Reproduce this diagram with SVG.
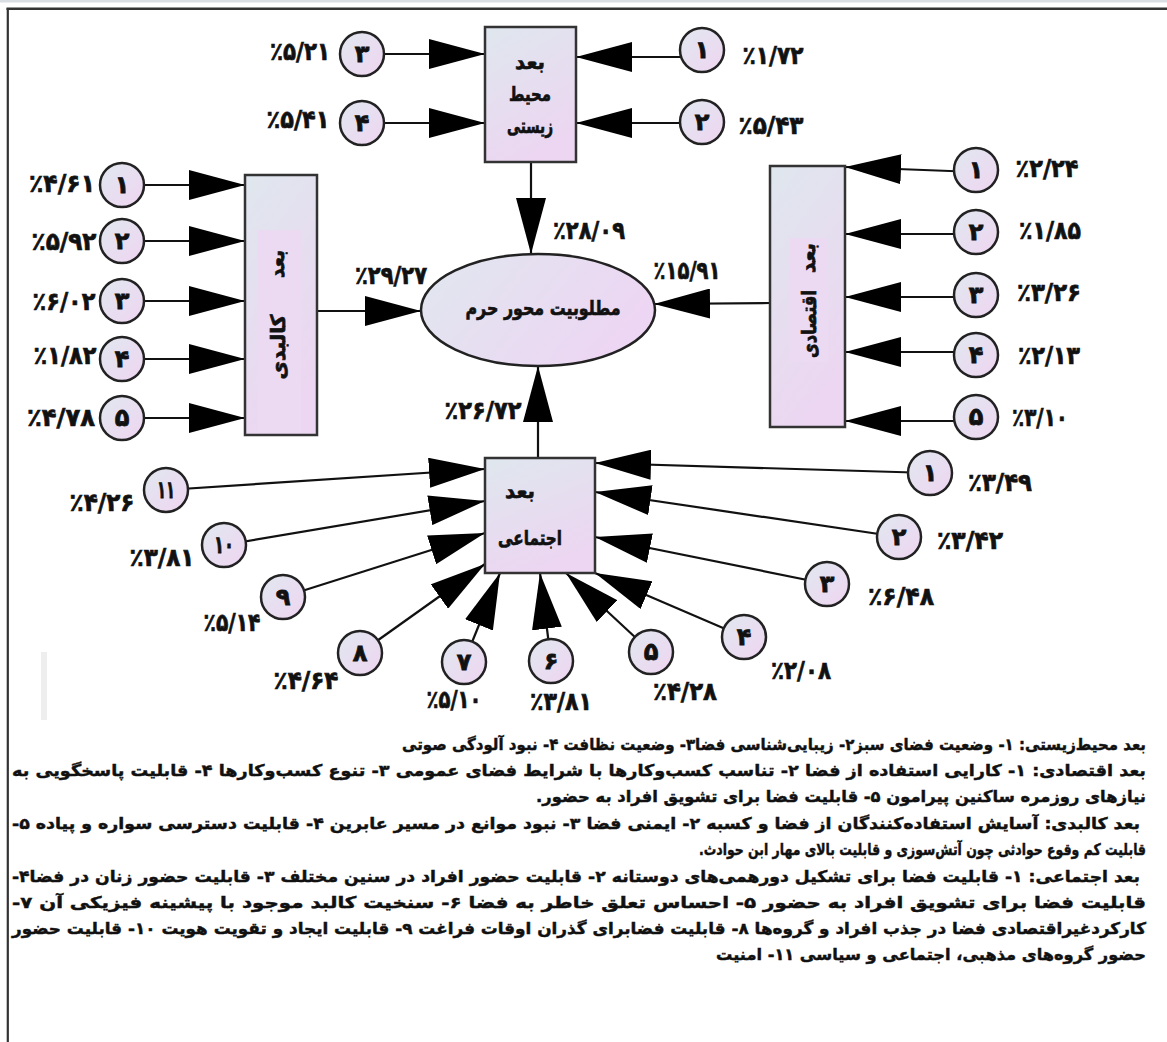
<svg xmlns="http://www.w3.org/2000/svg" width="1167" height="1042" viewBox="0 0 1167 1042">
<defs>
<linearGradient id="gBox" x1="0" y1="0" x2="0.4" y2="1"><stop offset="0" stop-color="#dfe7ee"/><stop offset="1" stop-color="#ecd6f1"/></linearGradient>
<linearGradient id="gCir" x1="0" y1="0" x2="1" y2="1"><stop offset="0" stop-color="#e1e8f0"/><stop offset="1" stop-color="#efd5f1"/></linearGradient>
<linearGradient id="gEll" x1="0" y1="0" x2="1" y2="0.4"><stop offset="0" stop-color="#e0e7ef"/><stop offset="1" stop-color="#edd6f3"/></linearGradient>
<marker id="ah" markerUnits="userSpaceOnUse" markerWidth="56" markerHeight="30" refX="56" refY="15" orient="auto"><path d="M0,0 L56,15 L0,30 Z" fill="#000"/></marker>
<style>
.box{fill:url(#gBox);stroke:#333;stroke-width:2.5}
.inner{fill:#ebdaf2;stroke:none}
.cir{fill:url(#gCir);stroke:#222;stroke-width:2.5}
.ell{fill:url(#gEll);stroke:#222;stroke-width:2.5}
.con line{stroke:#111;stroke-width:2.2;marker-end:url(#ah)}
text{font-family:"DejaVu Sans",sans-serif;font-weight:bold;fill:#111;stroke:#111}
.num{font-size:24px;text-anchor:middle;dominant-baseline:central;stroke-width:0.8}
.lbl{font-size:25px;text-anchor:middle;dominant-baseline:central;stroke-width:0.7}
.nt{font-size:20px;text-anchor:middle;dominant-baseline:central;stroke-width:0.7}
.par{font-size:16px;text-anchor:start;stroke-width:0.45}
</style>
</defs>
<rect width="1167" height="1042" fill="#fff"/>
<g id="frame">
<line x1="0" y1="1" x2="1167" y2="1" stroke="#d9dee4" stroke-width="3"/>
<line x1="6.5" y1="8.7" x2="1167" y2="8.7" stroke="#333" stroke-width="2.5"/>
<line x1="7.8" y1="8" x2="7.8" y2="1042" stroke="#333" stroke-width="2.2"/>
<rect x="41" y="652" width="6" height="68" fill="#eeeeee"/>
</g>
<g id="connectors" class="con">
<line x1="362" y1="54" x2="485" y2="54"/>
<line x1="362" y1="123" x2="485" y2="123"/>
<line x1="702" y1="57" x2="576" y2="57"/>
<line x1="702" y1="123" x2="576" y2="123"/>
<line x1="531" y1="162" x2="531" y2="254"/>
<line x1="122" y1="185" x2="245" y2="185"/>
<line x1="122" y1="241" x2="245" y2="241"/>
<line x1="122" y1="301" x2="245" y2="301"/>
<line x1="122" y1="359" x2="245" y2="359"/>
<line x1="122" y1="418" x2="245" y2="418"/>
<line x1="317" y1="311" x2="421" y2="311"/>
<line x1="976" y1="172" x2="845" y2="167"/>
<line x1="976" y1="234" x2="845" y2="234"/>
<line x1="976" y1="297" x2="845" y2="297"/>
<line x1="976" y1="352" x2="845" y2="352"/>
<line x1="976" y1="421" x2="845" y2="421"/>
<line x1="770" y1="303" x2="654" y2="304"/>
<line x1="538" y1="458" x2="538" y2="366"/>
<line x1="166" y1="490" x2="485" y2="469"/>
<line x1="224" y1="545" x2="485" y2="501"/>
<line x1="283" y1="597" x2="485" y2="533"/>
<line x1="360" y1="653" x2="485" y2="564"/>
<line x1="464" y1="662" x2="500" y2="573"/>
<line x1="551" y1="661" x2="540" y2="573"/>
<line x1="651" y1="652" x2="566" y2="573"/>
<line x1="744" y1="637" x2="595" y2="573"/>
<line x1="827" y1="584" x2="595" y2="537"/>
<line x1="899" y1="537" x2="595" y2="492"/>
<line x1="930" y1="473" x2="595" y2="463"/>
</g>
<g id="n-goal"><ellipse class="ell" cx="538" cy="310" rx="117" ry="56"/><text class="nt" x="543" y="308" textLength="155" lengthAdjust="spacingAndGlyphs">مطلوبیت محور حرم</text></g>
<g id="n-env"><rect class="box" x="485" y="27" width="91" height="135"/><text class="nt" x="530" y="62" textLength="30" lengthAdjust="spacingAndGlyphs">بعد</text><text class="nt" x="530" y="94" textLength="42" lengthAdjust="spacingAndGlyphs">محیط</text><text class="nt" x="530" y="126" textLength="46" lengthAdjust="spacingAndGlyphs">زیستی</text></g>
<g id="n-phys"><rect class="box" x="245" y="175" width="72" height="260"/><rect class="inner" x="258" y="230" width="43" height="203"/><text class="nt" transform="translate(277,264) rotate(-90)" textLength="28" lengthAdjust="spacingAndGlyphs">بعد</text><text class="nt" transform="translate(278,347) rotate(-90)" textLength="65" lengthAdjust="spacingAndGlyphs">کالبدی</text></g>
<g id="n-econ"><rect class="box" x="770" y="166" width="75" height="261"/><rect class="inner" x="790" y="238" width="38" height="124"/><text class="nt" transform="translate(808,258) rotate(-90)" textLength="30" lengthAdjust="spacingAndGlyphs">بعد</text><text class="nt" transform="translate(809,324) rotate(-90)" textLength="68" lengthAdjust="spacingAndGlyphs">اقتصادی</text></g>
<g id="n-soc"><rect class="box" x="485" y="458" width="110" height="115"/><text class="nt" x="520" y="491" textLength="30" lengthAdjust="spacingAndGlyphs">بعد</text><text class="nt" x="530" y="538" textLength="64" lengthAdjust="spacingAndGlyphs">اجتماعی</text></g>
<g id="env-items">
<g id="env-3"><circle class="cir" cx="362" cy="54" r="22"/><text class="num" x="362" y="54">۳</text><text class="lbl" x="300" y="51" textLength="60" lengthAdjust="spacingAndGlyphs">٪۵/۲۱</text></g>
<g id="env-4"><circle class="cir" cx="362" cy="123" r="22"/><text class="num" x="362" y="123">۴</text><text class="lbl" x="298" y="119" textLength="63" lengthAdjust="spacingAndGlyphs">٪۵/۴۱</text></g>
<g id="env-1"><circle class="cir" cx="702" cy="50" r="22"/><text class="num" x="702" y="50">۱</text><text class="lbl" x="773" y="55" textLength="61" lengthAdjust="spacingAndGlyphs">٪۱/۷۲</text></g>
<g id="env-2"><circle class="cir" cx="702" cy="122" r="22"/><text class="num" x="702" y="122">۲</text><text class="lbl" x="771" y="125" textLength="65" lengthAdjust="spacingAndGlyphs">٪۵/۴۳</text></g>
</g>
<g id="phys-items">
<g id="phys-1"><circle class="cir" cx="122" cy="185" r="22"/><text class="num" x="122" y="185">۱</text><text class="lbl" x="62" y="183" textLength="66" lengthAdjust="spacingAndGlyphs">٪۴/۶۱</text></g>
<g id="phys-2"><circle class="cir" cx="122" cy="241" r="22"/><text class="num" x="122" y="241">۲</text><text class="lbl" x="64" y="241" textLength="65" lengthAdjust="spacingAndGlyphs">٪۵/۹۲</text></g>
<g id="phys-3"><circle class="cir" cx="122" cy="301" r="22"/><text class="num" x="122" y="301">۳</text><text class="lbl" x="64" y="301" textLength="63" lengthAdjust="spacingAndGlyphs">٪۶/۰۲</text></g>
<g id="phys-4"><circle class="cir" cx="122" cy="359" r="22"/><text class="num" x="122" y="359">۴</text><text class="lbl" x="65" y="355" textLength="63" lengthAdjust="spacingAndGlyphs">٪۱/۸۲</text></g>
<g id="phys-5"><circle class="cir" cx="122" cy="418" r="22"/><text class="num" x="122" y="418">۵</text><text class="lbl" x="61" y="417" textLength="68" lengthAdjust="spacingAndGlyphs">٪۴/۷۸</text></g>
</g>
<g id="econ-items">
<g id="econ-1"><circle class="cir" cx="976" cy="170" r="22"/><text class="num" x="976" y="170">۱</text><text class="lbl" x="1047" y="168" textLength="63" lengthAdjust="spacingAndGlyphs">٪۲/۲۴</text></g>
<g id="econ-2"><circle class="cir" cx="976" cy="232" r="22"/><text class="num" x="976" y="232">۲</text><text class="lbl" x="1050" y="230" textLength="62" lengthAdjust="spacingAndGlyphs">٪۱/۸۵</text></g>
<g id="econ-3"><circle class="cir" cx="976" cy="295" r="22"/><text class="num" x="976" y="295">۳</text><text class="lbl" x="1049" y="292" textLength="64" lengthAdjust="spacingAndGlyphs">٪۳/۲۶</text></g>
<g id="econ-4"><circle class="cir" cx="976" cy="355" r="22"/><text class="num" x="976" y="355">۴</text><text class="lbl" x="1049" y="355" textLength="62" lengthAdjust="spacingAndGlyphs">٪۲/۱۳</text></g>
<g id="econ-5"><circle class="cir" cx="976" cy="417" r="22"/><text class="num" x="976" y="417">۵</text><text class="lbl" x="1040" y="417" textLength="56" lengthAdjust="spacingAndGlyphs">٪۳/۱۰</text></g>
</g>
<g id="soc-items">
<g id="soc-11"><circle class="cir" cx="166" cy="490" r="22"/><text class="num" x="166" y="490" textLength="18" lengthAdjust="spacingAndGlyphs">۱۱</text><text class="lbl" x="102" y="502" textLength="65" lengthAdjust="spacingAndGlyphs">٪۴/۲۶</text></g>
<g id="soc-10"><circle class="cir" cx="224" cy="545" r="22"/><text class="num" x="224" y="545" textLength="20" lengthAdjust="spacingAndGlyphs">۱۰</text><text class="lbl" x="162" y="557" textLength="65" lengthAdjust="spacingAndGlyphs">٪۳/۸۱</text></g>
<g id="soc-9"><circle class="cir" cx="283" cy="597" r="22"/><text class="num" x="283" y="597">۹</text><text class="lbl" x="232" y="622" textLength="57" lengthAdjust="spacingAndGlyphs">٪۵/۱۴</text></g>
<g id="soc-8"><circle class="cir" cx="360" cy="653" r="22"/><text class="num" x="360" y="653">۸</text><text class="lbl" x="306" y="680" textLength="65" lengthAdjust="spacingAndGlyphs">٪۴/۶۴</text></g>
<g id="soc-7"><circle class="cir" cx="464" cy="662" r="22"/><text class="num" x="464" y="662">۷</text><text class="lbl" x="454" y="699" textLength="55" lengthAdjust="spacingAndGlyphs">٪۵/۱۰</text></g>
<g id="soc-6"><circle class="cir" cx="551" cy="661" r="22"/><text class="num" x="551" y="661">۶</text><text class="lbl" x="561" y="701" textLength="62" lengthAdjust="spacingAndGlyphs">٪۳/۸۱</text></g>
<g id="soc-5"><circle class="cir" cx="651" cy="652" r="22"/><text class="num" x="651" y="652">۵</text><text class="lbl" x="685" y="691" textLength="64" lengthAdjust="spacingAndGlyphs">٪۴/۲۸</text></g>
<g id="soc-4"><circle class="cir" cx="744" cy="637" r="22"/><text class="num" x="744" y="637">۴</text><text class="lbl" x="801" y="670" textLength="60" lengthAdjust="spacingAndGlyphs">٪۲/۰۸</text></g>
<g id="soc-3"><circle class="cir" cx="827" cy="584" r="22"/><text class="num" x="827" y="584">۳</text><text class="lbl" x="901" y="596" textLength="66" lengthAdjust="spacingAndGlyphs">٪۶/۴۸</text></g>
<g id="soc-2"><circle class="cir" cx="899" cy="537" r="22"/><text class="num" x="899" y="537">۲</text><text class="lbl" x="970" y="540" textLength="66" lengthAdjust="spacingAndGlyphs">٪۳/۴۲</text></g>
<g id="soc-1"><circle class="cir" cx="930" cy="473" r="22"/><text class="num" x="930" y="473">۱</text><text class="lbl" x="1000" y="482" textLength="64" lengthAdjust="spacingAndGlyphs">٪۳/۴۹</text></g>
</g>
<g id="edge-labels">
<text class="lbl" x="589" y="230" textLength="72" lengthAdjust="spacingAndGlyphs">٪۲۸/۰۹</text>
<text class="lbl" x="391" y="275" textLength="72" lengthAdjust="spacingAndGlyphs">٪۲۹/۲۷</text>
<text class="lbl" x="687" y="270" textLength="67" lengthAdjust="spacingAndGlyphs">٪۱۵/۹۱</text>
<text class="lbl" x="483" y="410" textLength="77" lengthAdjust="spacingAndGlyphs">٪۲۶/۷۲</text>
</g>
<g id="notes">
<text class="par" direction="rtl" x="1146" y="750" textLength="744" lengthAdjust="spacingAndGlyphs">بعد محیط‌زیستی: ۱- وضعیت فضای سبز۲- زیبایی‌شناسی فضا۳- وضعیت نظافت ۴- نبود آلودگی صوتی</text>
<text class="par" direction="rtl" x="1146" y="776" textLength="1134" lengthAdjust="spacingAndGlyphs">بعد اقتصادی: ۱-  کارایی استفاده از فضا ۲- تناسب کسب‌وکارها با شرایط فضای عمومی ۳- تنوع کسب‌وکارها ۴- قابلیت پاسخگویی به</text>
<text class="par" direction="rtl" x="1146" y="802" textLength="610" lengthAdjust="spacingAndGlyphs">نیازهای روزمره ساکنین پیرامون ۵- قابلیت فضا برای تشویق افراد به حضور.</text>
<text class="par" direction="rtl" x="1140" y="829" textLength="1128" lengthAdjust="spacingAndGlyphs">بعد کالبدی: آسایش استفاده‌کنندگان از فضا و کسبه ۲- ایمنی فضا ۳- نبود موانع در مسیر عابرین ۴- قابلیت دسترسی سواره و پیاده ۵-</text>
<text class="par" direction="rtl" x="1146" y="855" textLength="447" lengthAdjust="spacingAndGlyphs">قابلیت کم وقوع حوادثی چون آتش‌سوزی و قابلیت بالای مهار ابن حوادث.</text>
<text class="par" direction="rtl" x="1140" y="882" textLength="1128" lengthAdjust="spacingAndGlyphs">بعد اجتماعی: ۱- قابلیت فضا برای تشکیل دورهمی‌های دوستانه ۲- قابلیت حضور افراد در سنین مختلف ۳- قابلیت حضور زنان در فضا۴-</text>
<text class="par" direction="rtl" x="1146" y="908" textLength="1134" lengthAdjust="spacingAndGlyphs">قابلیت فضا برای تشویق افراد به حضور ۵- احساس تعلق خاطر به فضا ۶- سنخیت کالبد موجود با  پیشینه فیزیکی آن ۷-</text>
<text class="par" direction="rtl" x="1146" y="934" textLength="1134" lengthAdjust="spacingAndGlyphs">کارکردغیراقتصادی فضا در جذب افراد و گروه‌ها ۸- قابلیت فضابرای گذران اوقات فراغت ۹- قابلیت ایجاد  و تقویت هویت ۱۰- قابلیت حضور</text>
<text class="par" direction="rtl" x="1146" y="960" textLength="430" lengthAdjust="spacingAndGlyphs">حضور گروه‌های مذهبی، اجتماعی و سیاسی ۱۱- امنیت</text>
</g>
</svg>
